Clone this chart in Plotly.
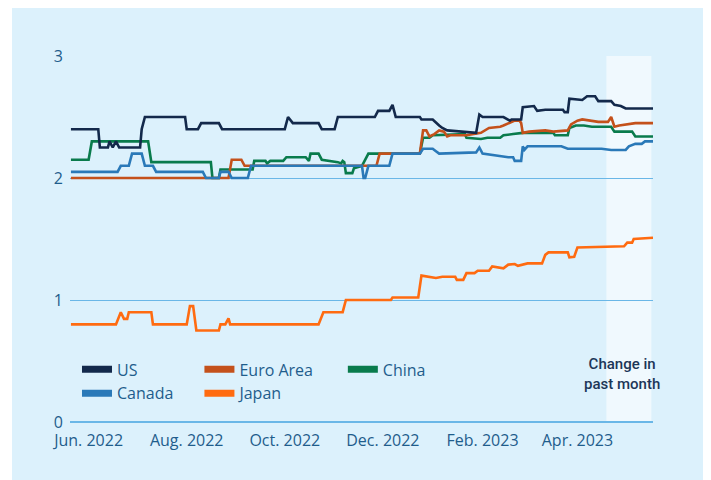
import plotly.graph_objects as go

# Datos
dates_us = ["2022-05-21", "2022-06-07", "2022-06-08", "2022-06-13", "2022-06-14", "2022-06-16", "2022-06-18",
            "2022-06-20", "2022-07-03", "2022-07-04", "2022-07-06", "2022-07-31", "2022-08-01", "2022-08-08",
            "2022-08-10", "2022-08-21", "2022-08-23", "2022-10-01", "2022-10-03", "2022-10-06", "2022-10-22",
            "2022-10-24", "2022-11-01", "2022-11-03", "2022-11-26", "2022-11-28", "2022-12-05", "2022-12-07",
            "2022-12-09", "2022-12-24", "2022-12-25", "2023-01-01", "2023-01-05", "2023-01-07", "2023-01-10",
            "2023-01-21", "2023-01-28", "2023-01-30", "2023-02-01", "2023-02-14", "2023-02-17", "2023-02-18",
            "2023-02-19", "2023-02-25", "2023-02-26", "2023-03-05", "2023-03-07", "2023-03-12", "2023-03-23",
            "2023-03-24", "2023-03-26", "2023-03-27", "2023-04-04", "2023-04-07", "2023-04-12", "2023-04-14",
            "2023-04-22", "2023-04-24", "2023-04-28", "2023-05-01", "2023-05-18"]
us = [2.40, 2.40, 2.25, 2.25, 2.30, 2.25, 2.30, 2.25, 2.25, 2.40, 2.50, 2.50, 2.40, 2.40, 2.45, 2.45, 2.40,
      2.40, 2.50, 2.45, 2.45, 2.40, 2.40, 2.50, 2.50, 2.55, 2.55, 2.60, 2.50, 2.50, 2.48, 2.48, 2.43, 2.41,
      2.39, 2.38, 2.37, 2.52, 2.50, 2.50, 2.48, 2.47, 2.48, 2.48, 2.58, 2.59, 2.55, 2.56, 2.56, 2.54, 2.54,
      2.65, 2.64, 2.67, 2.67, 2.63, 2.63, 2.60, 2.59, 2.57, 2.57]

dates_eu = ["2022-05-21", "2022-08-27", "2022-08-29", "2022-09-04", "2022-09-06", "2022-11-27", "2022-11-29",
            "2022-12-24", "2022-12-26", "2022-12-28", "2022-12-30", "2023-01-02", "2023-01-05", "2023-01-08",
            "2023-01-10", "2023-01-12", "2023-01-22", "2023-01-28", "2023-01-31", "2023-02-05", "2023-02-12",
            "2023-02-14", "2023-02-18", "2023-02-21", "2023-02-24", "2023-02-25", "2023-02-26", "2023-03-02",
            "2023-03-12", "2023-03-17", "2023-03-26", "2023-03-28", "2023-04-01", "2023-04-04", "2023-04-14",
            "2023-04-20", "2023-04-22", "2023-04-24", "2023-04-27", "2023-05-01", "2023-05-07", "2023-05-18"]
euro = [2.00, 2.00, 2.15, 2.15, 2.10, 2.10, 2.20, 2.20, 2.39, 2.39, 2.34, 2.36, 2.39, 2.38, 2.34, 2.35, 2.35,
        2.36, 2.37, 2.41, 2.42, 2.43, 2.45, 2.47, 2.47, 2.45, 2.37, 2.38, 2.39, 2.38, 2.39, 2.44, 2.47, 2.48,
        2.46, 2.46, 2.50, 2.42, 2.43, 2.44, 2.45, 2.45]

dates_cn = ["2022-05-21", "2022-06-01", "2022-06-03", "2022-07-08", "2022-07-10", "2022-08-16", "2022-08-17",
            "2022-08-21", "2022-08-22", "2022-09-11", "2022-09-12", "2022-09-19", "2022-09-20", "2022-09-22",
            "2022-09-30", "2022-10-02", "2022-10-14", "2022-10-16", "2022-10-17", "2022-10-22", "2022-10-24",
            "2022-10-31", "2022-11-03", "2022-11-05", "2022-11-06", "2022-11-07", "2022-11-08", "2022-11-12",
            "2022-11-13", "2022-11-18", "2022-11-22", "2022-12-24", "2022-12-26", "2022-12-30", "2023-01-01",
            "2023-01-21", "2023-01-22", "2023-01-31", "2023-02-04", "2023-02-12", "2023-02-14", "2023-02-20",
            "2023-02-26", "2023-03-17", "2023-03-18", "2023-03-26", "2023-03-27", "2023-03-31", "2023-04-05",
            "2023-04-10", "2023-04-22", "2023-04-24", "2023-05-05", "2023-05-07", "2023-05-18"]
china = [2.15, 2.15, 2.30, 2.30, 2.13, 2.13, 2.00, 2.00, 2.07, 2.07, 2.14, 2.14, 2.12, 2.14, 2.14, 2.17, 2.17,
         2.14, 2.20, 2.20, 2.15, 2.14, 2.13, 2.12, 2.14, 2.13, 2.04, 2.04, 2.08, 2.10, 2.20, 2.20, 2.33, 2.33,
         2.35, 2.36, 2.33, 2.32, 2.33, 2.33, 2.35, 2.36, 2.37, 2.37, 2.35, 2.35, 2.41, 2.43, 2.43, 2.42, 2.42,
         2.38, 2.38, 2.34, 2.34]

dates_ca = ["2022-05-21", "2022-06-19", "2022-06-21", "2022-06-26", "2022-06-28", "2022-07-04", "2022-07-06",
            "2022-07-11", "2022-07-13", "2022-08-11", "2022-08-13", "2022-08-21", "2022-08-22", "2022-08-27",
            "2022-08-29", "2022-09-08", "2022-09-10", "2022-11-18", "2022-11-19", "2022-11-20", "2022-11-22",
            "2022-12-05", "2022-12-07", "2022-12-24", "2022-12-26", "2023-01-01", "2023-01-03", "2023-01-05",
            "2023-01-28", "2023-01-30", "2023-02-01", "2023-02-06", "2023-02-14", "2023-02-17", "2023-02-20",
            "2023-02-21", "2023-02-25", "2023-02-26", "2023-02-27", "2023-03-01", "2023-03-22", "2023-03-26",
            "2023-04-16", "2023-04-22", "2023-05-01", "2023-05-03", "2023-05-07", "2023-05-11", "2023-05-13",
            "2023-05-18"]
canada = [2.05, 2.05, 2.10, 2.10, 2.20, 2.20, 2.10, 2.10, 2.05, 2.05, 2.00, 2.00, 2.05, 2.05, 2.00, 2.00, 2.10,
          2.10, 2.00, 2.00, 2.10, 2.10, 2.20, 2.20, 2.24, 2.24, 2.22, 2.20, 2.21, 2.25, 2.20, 2.19, 2.18, 2.17,
          2.17, 2.14, 2.14, 2.26, 2.23, 2.26, 2.26, 2.24, 2.24, 2.23, 2.23, 2.26, 2.28, 2.28, 2.30, 2.30]

dates_jp = ["2022-05-21", "2022-06-18", "2022-06-21", "2022-06-23", "2022-06-25", "2022-06-26", "2022-07-10",
            "2022-07-11", "2022-08-01", "2022-08-03", "2022-08-05", "2022-08-07", "2022-08-21", "2022-08-22",
            "2022-08-25", "2022-08-27", "2022-08-28", "2022-10-22", "2022-10-25", "2022-11-06", "2022-11-08",
            "2022-12-06", "2022-12-07", "2022-12-23", "2022-12-25", "2022-12-29", "2023-01-03", "2023-01-07",
            "2023-01-15", "2023-01-16", "2023-01-20", "2023-01-22", "2023-01-27", "2023-01-29", "2023-02-05",
            "2023-02-07", "2023-02-10", "2023-02-14", "2023-02-17", "2023-02-21", "2023-02-23", "2023-02-25",
            "2023-03-01", "2023-03-10", "2023-03-12", "2023-03-14", "2023-03-26", "2023-03-27", "2023-03-30",
            "2023-04-01", "2023-04-30", "2023-05-02", "2023-05-05", "2023-05-06", "2023-05-18"]
japan = [0.80, 0.80, 0.90, 0.845, 0.845, 0.90, 0.90, 0.80, 0.80, 0.95, 0.95, 0.75, 0.75, 0.80, 0.80, 0.85,
         0.80, 0.80, 0.90, 0.90, 1.00, 1.00, 1.02, 1.02, 1.20, 1.19, 1.18, 1.19, 1.19, 1.165, 1.165, 1.22, 1.22,
         1.24, 1.24, 1.275, 1.27, 1.26, 1.29, 1.295, 1.28, 1.285, 1.30, 1.30, 1.37, 1.39, 1.39, 1.35, 1.355,
         1.43, 1.44, 1.47, 1.47, 1.50, 1.51]

tick_vals = ["2022-06-01", "2022-08-01", "2022-10-01", "2022-12-01", "2023-02-01", "2023-04-01"]
tick_text = ["Jun. 2022", "Aug. 2022", "Oct. 2022", "Dec. 2022", "Feb. 2023", "Apr. 2023"]

# Colores
COLORES = {
    "US": "#13294b",
    "Euro Area": "#c4511b",
    "China": "#097b4c",
    "Canada": "#2a79b8",
    "Japan": "#ff6b10",
}
TEXTO = "#1f5d8c"
FONDO = "#dcf1fc"
GRID = "#6ab7e7"

series = [
    ("China", dates_cn, china),
    ("Euro Area", dates_eu, euro),
    ("Canada", dates_ca, canada),
    ("US", dates_us, us),
    ("Japan", dates_jp, japan),
]

fig = go.Figure()
for nombre, fechas, valores in series:
    fig.add_trace(go.Scatter(x=fechas, y=valores, mode="lines", name=nombre,
                             line=dict(color=COLORES[nombre], width=2.6), showlegend=False))

# Leyenda en tres columnas (trazas vacías con línea gruesa)
columnas = {"legend": ["US", "Canada"], "legend2": ["Euro Area", "Japan"], "legend3": ["China"]}
for leyenda, nombres in columnas.items():
    for nombre in nombres:
        fig.add_trace(go.Scatter(x=[None], y=[None], mode="lines", name=nombre, legend=leyenda,
                                 line=dict(color=COLORES[nombre], width=7)))

leyenda_base = dict(yanchor="top", y=0.19, xanchor="left", bgcolor="rgba(0,0,0,0)",
                    font=dict(family="Open Sans", size=16, color=TEXTO), itemwidth=30, tracegroupgap=0)

# Panel azul claro y zona "último mes"
fig.add_shape(type="rect", xref="paper", yref="paper", x0=-0.0995, x1=1.2, y0=-0.3, y1=1.2,
              fillcolor=FONDO, line_width=0, layer="below")
fig.add_shape(type="rect", xref="x", yref="paper", x0="2023-04-19", x1="2023-05-17", y0=0, y1=1,
              fillcolor="#f0f9fe", line_width=0, layer="below")

fig.add_annotation(x="2023-04-29", y=0.13, xref="x", yref="paper", yanchor="middle",
                   text="Change in<br>past month", showarrow=False,
                   font=dict(family="Roboto", size=15, color="#1c3658", weight=500))

# El cuerpo de la página añade 8 px de margen: se compensa aquí
fig.update_layout(
    width=703, height=472,
    margin=dict(l=62, r=58, t=48, b=58),
    paper_bgcolor="white",
    plot_bgcolor="rgba(0,0,0,0)",
    font=dict(family="Open Sans", size=16, color=TEXTO),
    legend=dict(leyenda_base, x=0.012),
    legend2=dict(leyenda_base, x=0.222),
    legend3=dict(leyenda_base, x=0.468),
    xaxis=dict(type="date", range=["2022-05-20 10:00", "2023-05-18"], tickvals=tick_vals, ticktext=tick_text,
               showgrid=False, zeroline=False, showline=False, ticks="", ticklabelstandoff=7,
               tickfont=dict(size=16, color=TEXTO)),
    yaxis=dict(range=[0, 3], tickvals=[0, 1, 2, 3], showgrid=True, gridcolor=GRID, gridwidth=1,
               zeroline=True, zerolinecolor=GRID, zerolinewidth=2, showline=False, ticks="",
               ticklabelstandoff=6, tickfont=dict(size=16, color=TEXTO)),
)

fig.write_html("out.html")
